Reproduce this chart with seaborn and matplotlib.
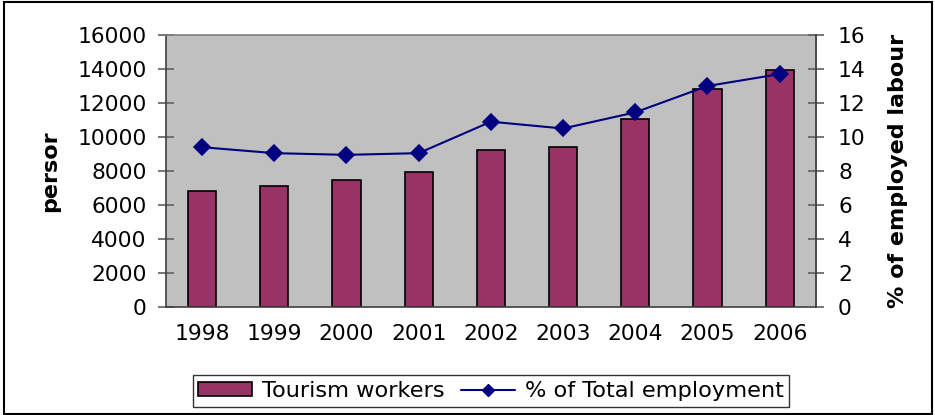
import matplotlib
matplotlib.use("Agg")
import matplotlib.pyplot as plt
import seaborn as sns
import pandas as pd
from matplotlib.patches import Rectangle
from matplotlib.lines import Line2D
from matplotlib.patches import Patch

years = ["1998", "1999", "2000", "2001", "2002", "2003", "2004", "2005", "2006"]
tourism_workers = [6850, 7130, 7500, 7950, 9250, 9430, 11080, 12850, 13960]
pct_total_employment = [9.4, 9.05, 8.95, 9.05, 10.9, 10.5, 11.45, 13.0, 13.7]

df = pd.DataFrame({"year": years, "workers": tourism_workers, "pct": pct_total_employment})

sns.set_style("white")
plt.rcParams["font.family"] = ["DejaVu Sans"]
plt.rcParams["text.color"] = "black"
plt.rcParams["axes.labelcolor"] = "black"

FS = 15.7

fig = plt.figure(figsize=(9.35, 4.15), dpi=100)
ax = fig.add_axes([0.1775, 0.2602, 0.695, 0.6555])
ax.set_facecolor("#C0C0C0")

sns.barplot(data=df, x="year", y="workers", ax=ax, color="#993366",
            width=0.39, edgecolor="black", linewidth=1.2, saturation=1)
ax.set_xlim(-0.5, len(years) - 0.5)
ax.set_ylim(0, 16000)
ax.set_yticks(range(0, 16001, 2000))
ax.set_xlabel("")
ax.set_ylabel("persor", fontsize=16, fontweight="bold", labelpad=12)

# category boundaries carry the x tick marks
ax.set_xticks([i - 0.5 for i in range(len(years) + 1)], minor=True)
ax.tick_params(axis="x", which="major", length=0, labelsize=FS, pad=12, labelcolor="black")
ax.tick_params(axis="x", which="minor", direction="inout", length=12, width=1.2, color="#808080")
ax.tick_params(axis="y", direction="inout", length=12, width=1.2, color="#606060",
               labelsize=FS, pad=8, labelcolor="black")

for side in ["top", "right"]:
    ax.spines[side].set_color("#808080")
ax.spines["left"].set_color("#404040")
ax.spines["bottom"].set_color("#404040")
for s in ax.spines.values():
    s.set_linewidth(1.2)

ax2 = ax.twinx()
sns.pointplot(data=df, x="year", y="pct", ax=ax2, color="#000080",
              markers="D", markersize=8.5, linewidth=1.5)
ax2.set_xlim(-0.5, len(years) - 0.5)
ax2.set_ylim(0, 16)
ax2.set_yticks(range(0, 17, 2))
ax2.set_xlabel("")
ax2.set_ylabel("% of employed labour", fontsize=16, fontweight="bold", labelpad=16)
ax2.tick_params(axis="y", direction="inout", length=12, width=1.2, color="#606060",
                labelsize=FS, pad=10, labelcolor="black")
for side in ["top", "left", "bottom"]:
    ax2.spines[side].set_visible(False)
ax2.spines["right"].set_color("#404040")
ax2.spines["right"].set_linewidth(1.2)

handles = [
    Patch(facecolor="#993366", edgecolor="black", linewidth=1.2),
    Line2D([0], [0], color="#000080", marker="D", markersize=6.5, linewidth=1.5),
]
leg = fig.legend(handles, ["Tourism workers", "% of Total employment"],
                 loc="center", bbox_to_anchor=(0.525, 0.058), ncol=2, fontsize=16.2,
                 frameon=True, fancybox=False, edgecolor="black", handlelength=2.4,
                 handleheight=0.55, handletextpad=0.45, columnspacing=0.7,
                 borderpad=0.25, borderaxespad=0.3)
leg.get_frame().set_linewidth(1.0)

fig.patches.append(Rectangle((0.004, 0.003), 0.993, 0.993, transform=fig.transFigure,
                             fill=False, edgecolor="black", linewidth=1.5))

fig.savefig("out.png", dpi=100)
